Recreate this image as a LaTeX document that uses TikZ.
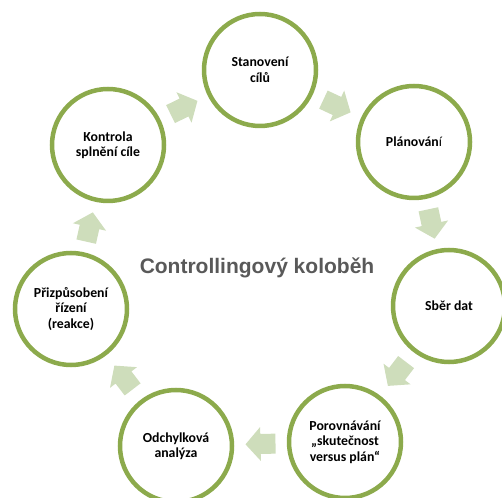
\documentclass[tikz,border=0pt]{standalone}
\usepackage{fontspec}
\setmainfont{Carlito}
\newfontfamily\titlefont{Liberation Sans}
\usetikzlibrary{calc}
\usetikzlibrary{positioning}
\definecolor{ringgreen}{RGB}{140,170,76}
\definecolor{arrowgreen}{RGB}{206,221,187}
\definecolor{titlegray}{RGB}{89,89,89}

\begin{document}
\begin{tikzpicture}[x=1pt, y=1pt,
    stage/.style={circle, draw=ringgreen, line width=4.5pt, fill=white, minimum size=112pt,
      inner sep=0pt, align=center, font=\bfseries\fontsize{13.8}{15.5}\selectfont},
    cycarrow/.pic={\fill[arrowgreen] (-15,-10) -- (0,-10) -- (0,-17) -- (15,0) -- (0,17) -- (0,10) -- (-15,10) -- cycle;}]
    \useasboundingbox (0,0) rectangle (502,497);
    \node[stage] (goal) at (260,427) {Stanovení\\cílů};
    \node[stage] (plan) at (414,355) {Plánován{\mdseries í}};
    \node[stage] (data) at (449,191) {Sběr dat};
    \node[stage] (compare) at (345,55) {Porovnávání\\„skutečnost\\versus plán“};
    \node[stage] (variance) at (176,51) {Odchylková\\analýza};
    \node[stage] (adjust) at (71,188) {Přizpůsobení\\řízení\\(reakce)};
    \node[stage] (check) at (108,352) {Kontrola\\splnění cíle};
    \node[text=titlegray, font=\titlefont\bfseries\fontsize{21}{25}\selectfont] (title) at (257,229) {Controllingový koloběh};
    % arrows between the stages
    \foreach \a/\b in {check/goal, goal/plan, plan/data, data/compare, compare/variance, variance/adjust, adjust/check}
        \path let \p1=($(\b)-(\a)$), \n1={atan2(\y1,\x1)} in pic[rotate=\n1] at ($(\a)!0.5!(\b)$) {cycarrow};
\end{tikzpicture}
\end{document}
